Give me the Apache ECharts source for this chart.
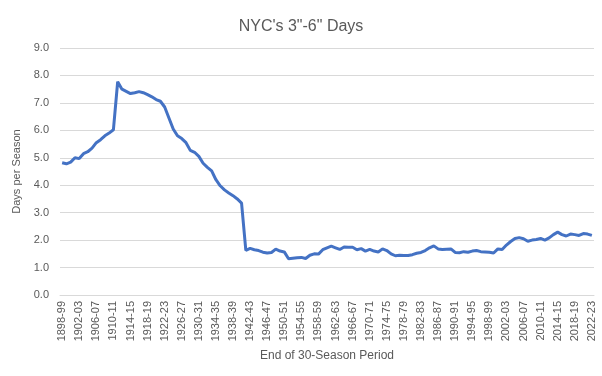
<!DOCTYPE html>
<html>
<head>
<meta charset="utf-8">
<script src="https://cdn.jsdelivr.net/npm/echarts@6/dist/echarts.min.js"></script>
<style>
  html, body { margin: 0; padding: 0; background: #fff; }
  #main { width: 602px; height: 376px; }
</style>
</head>
<body>
<div id="main"></div>
<script>
  // season labels: end of each 30-season period, 1898-99 .. 2022-23
  var seasons = [];
  for (var y = 1898; y <= 2022; y++) {
    seasons.push(y + '-' + String((y + 1) % 100).padStart(2, '0'));
  }

  // days per season with 3"-6" snowfall (30-season average)
  var daysPerSeason = [
    4.82, 4.78, 4.84, 5.00, 4.97, 5.15, 5.22, 5.35, 5.55, 5.66,
    5.80, 5.90, 6.02, 7.77, 7.50, 7.42, 7.34, 7.37, 7.41, 7.37,
    7.30, 7.22, 7.12, 7.06, 6.85, 6.45, 6.05, 5.80, 5.70, 5.55,
    5.27, 5.20, 5.05, 4.80, 4.65, 4.52, 4.20, 3.98, 3.83, 3.72,
    3.62, 3.50, 3.35, 1.63, 1.70, 1.65, 1.62, 1.56, 1.53, 1.55,
    1.67, 1.60, 1.57, 1.32, 1.34, 1.36, 1.37, 1.33, 1.45, 1.50,
    1.49, 1.65, 1.72, 1.78, 1.72, 1.66, 1.75, 1.74, 1.74, 1.65,
    1.69, 1.60, 1.66, 1.60, 1.57, 1.68, 1.62, 1.50, 1.43, 1.45,
    1.44, 1.44, 1.47, 1.52, 1.55, 1.62, 1.72, 1.79, 1.68, 1.66,
    1.67, 1.68, 1.55, 1.54, 1.58, 1.56, 1.60, 1.62, 1.58, 1.57,
    1.56, 1.53, 1.68, 1.66, 1.82, 1.95, 2.06, 2.09, 2.05, 1.96,
    2.00, 2.02, 2.06, 2.00, 2.08, 2.20, 2.29, 2.20, 2.15, 2.22,
    2.20, 2.17, 2.24, 2.22, 2.17
  ];

  var yMin = 0, yMax = 9, yStep = 1;

  var myChart = echarts.init(document.getElementById('main'));
  var textColor = '#595959';
  var font = '"Liberation Sans", Arial, sans-serif';

  var option = {
    animation: false,
    title: {
      text: 'NYC\'s 3"-6" Days',
      left: 'center',
      top: 14,
      textStyle: {
        fontFamily: font,
        fontSize: 16,
        fontWeight: 'normal',
        color: textColor
      }
    },
    grid: {
      left: 60,
      right: 8,
      top: 48,
      bottom: 81
    },
    xAxis: {
      type: 'category',
      data: seasons,
      boundaryGap: true,
      name: 'End of 30-Season Period',
      nameLocation: 'middle',
      nameGap: 52,
      nameTextStyle: { fontFamily: font, fontSize: 12, color: textColor },
      axisLine: { lineStyle: { color: '#d9d9d9' } },
      axisTick: { show: false },
      axisLabel: {
        interval: 3,
        rotate: 90,
        margin: 6,
        fontFamily: font,
        fontSize: 11,
        color: textColor
      }
    },
    yAxis: {
      type: 'value',
      min: yMin,
      max: yMax,
      interval: yStep,
      name: 'Days per Season',
      nameLocation: 'middle',
      nameGap: 27,
      nameTextStyle: { fontFamily: font, fontSize: 11, color: textColor },
      axisLine: { show: false },
      axisTick: { show: false },
      splitLine: { lineStyle: { color: '#d9d9d9' } },
      axisLabel: {
        margin: 11,
        fontFamily: font,
        fontSize: 11,
        color: textColor,
        formatter: function (v) { return v.toFixed(1); }
      }
    },
    series: [
      {
        name: 'Days',
        type: 'line',
        data: daysPerSeason,
        showSymbol: false,
        symbol: 'none',
        lineStyle: { color: '#4472c4', width: 3 },
        itemStyle: { color: '#4472c4' }
      }
    ]
  };
  myChart.setOption(option);
</script>
</body>
</html>
